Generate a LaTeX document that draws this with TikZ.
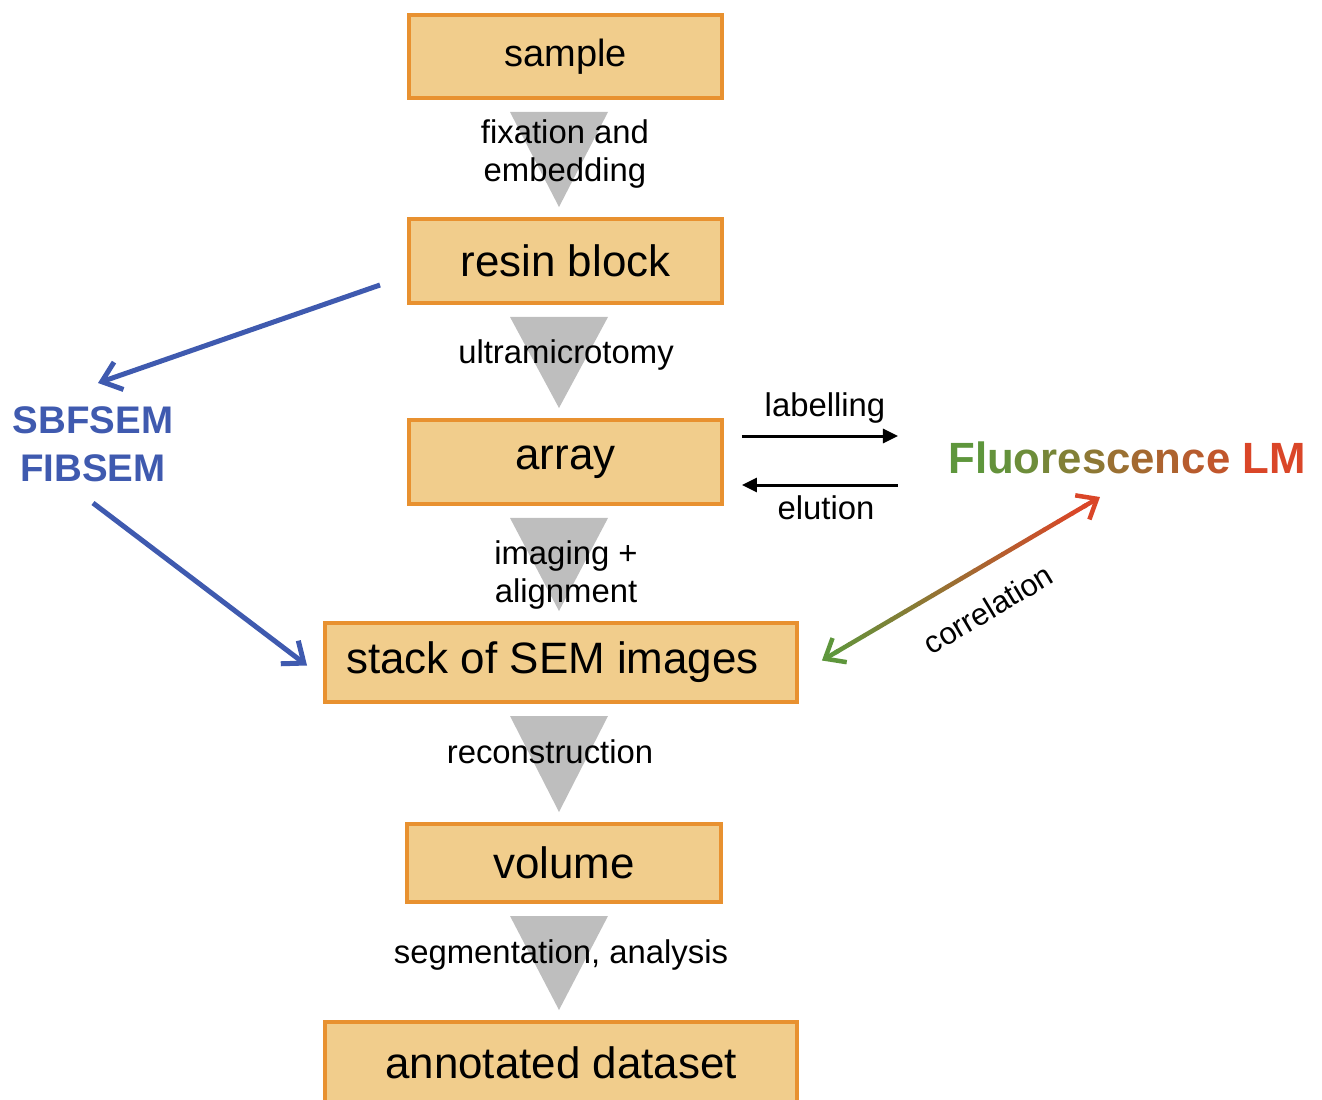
\documentclass[tikz,border=0pt]{standalone}
\usepackage{fontspec}
\setmainfont{Liberation Sans}
\usepackage{tikz}
\usetikzlibrary{arrows.meta,calc}
\definecolor{boxfill}{RGB}{241,205,140}
\definecolor{boxline}{RGB}{232,145,48}
\definecolor{stepgray}{RGB}{190,190,190}
\definecolor{emblue}{RGB}{63,90,175}
\definecolor{lmgreen}{RGB}{94,150,60}
\definecolor{lmred}{RGB}{218,70,40}
\tikzstyle{stage}=[draw=boxline,fill=boxfill,line width=0.08cm,inner sep=0pt,minimum width=6.26cm,font=\fontsize{25}{30}\selectfont]
\tikzstyle{steplabel}=[inner sep=0pt,align=center,font=\fontsize{18.7}{22.1}\selectfont]
\tikzstyle{emlabel}=[inner sep=0pt,align=center,text=emblue,font=\bfseries\fontsize{21.9}{27.2}\selectfont]
\tikzstyle{emarrow}=[emblue,line width=0.1cm,-{Straight Barb[length=0.36cm,width=0.58cm]}]
\tikzstyle{swap}=[black,line width=0.06cm,-{Triangle[length=0.3cm,width=0.28cm]}]
\newcommand{\steptri}[2]{\fill[stepgray] ($(#1.south -| tricol)+(-49,12)$) -- ($(#1.south -| tricol)+(49,12)$) -- ($(#2.north -| tricol)+(0,-10)$) -- cycle;}
\newcommand{\fl}[2]{\textcolor{lmgreen!#1!lmred}{#2}}

\begin{document}
\begin{tikzpicture}[x=0.02cm,y=-0.02cm]
\useasboundingbox (0,0) rectangle (1322,1099);
\clip (0,0) rectangle (1322,1099);

\coordinate (tricol) at (559,0);

% main stages
\node[stage,minimum height=1.66cm,font=\fontsize{21.6}{26}\selectfont] (sample) at (565.5,56.5) {sample};
\node[stage,minimum height=1.68cm] (resin) at (565.5,261) {resin block};
\node[stage,minimum height=1.68cm] (array) at (565.5,462) {array};
\node[stage,minimum width=9.44cm,minimum height=1.58cm] (stack) at (561,662.5) {stack of SEM images\hspace*{0.34cm}};
\node[stage,minimum width=6.28cm,minimum height=1.56cm] (volume) at (564,863) {volume};
\node[stage,minimum width=9.44cm,minimum height=1.64cm] (annot) at (561,1063) {annotated dataset};

\steptri{sample}{resin}
\steptri{resin}{array}
\steptri{array}{stack}
\steptri{stack}{volume}
\steptri{volume}{annot}

\node[steplabel] (fix) at (565,154) {fixation and\\embedding};
\node[steplabel] (ultra) at (566,355) {ultramicrotomy};
\node[steplabel] (imaging) at (566,575) {imaging +\\alignment};
\node[steplabel] (recon) at (550,752) {reconstruction};
\node[steplabel] (segm) at (561,955) {segmentation, analysis};

% volume EM
\node[emlabel] (em) at (93,444) {SBFSEM\\FIBSEM};
\draw[emarrow] ($(resin.west)+(-27,24)$) -- ($(em.center)+(5,-61)$);
\draw[emarrow] ($(em.center)+(0,59)$) -- ($(stack.west)+(-16,3)$);

% light microscopy
\node[inner sep=0pt,font=\bfseries\fontsize{24.9}{30}\selectfont] (lm) at (1127,458)
  {\fl{100}{F}\fl{100}{l}\fl{95}{u}\fl{88}{o}\fl{80}{r}\fl{72}{e}\fl{62}{s}\fl{52}{c}\fl{44}{e}\fl{36}{n}\fl{28}{c}\fl{20}{e} \fl{0}{LM}};
\node[steplabel] (lab) at (825,408) {labelling};
\node[steplabel] (elu) at (826,508) {elution};
\draw[swap] ($(array.east)+(18,-26)$) -- ($(array.east)+(174,-26)$);
\draw[swap] ($(array.east)+(174,23)$) -- ($(array.east)+(18,23)$);

\coordinate (c0) at ($(stack.east)+(23,-2)$);
\coordinate (c1) at ($(lm.center)+(-27,39)$);
\foreach \i in {1,...,18} {
  \pgfmathsetmacro\p{100-5.5*\i}
  \pgfmathsetmacro\a{\i/20}
  \pgfmathsetmacro\b{(\i+1)/20}
  \draw[lmgreen!\p!lmred,line width=0.09cm,line cap=round] ($(c0)!\a!(c1)$) -- ($(c0)!\b!(c1)$);
}
\draw[lmgreen,line width=0.09cm,-{Straight Barb[length=0.34cm,width=0.56cm]}] ($(c0)!0.06!(c1)$) -- (c0);
\draw[lmred,line width=0.09cm,-{Straight Barb[length=0.34cm,width=0.56cm]}] ($(c0)!0.94!(c1)$) -- (c1);
\node[steplabel,font=\fontsize{17.6}{21}\selectfont,rotate=31] (corr) at (988,609) {correlation};
\end{tikzpicture}
\end{document}
